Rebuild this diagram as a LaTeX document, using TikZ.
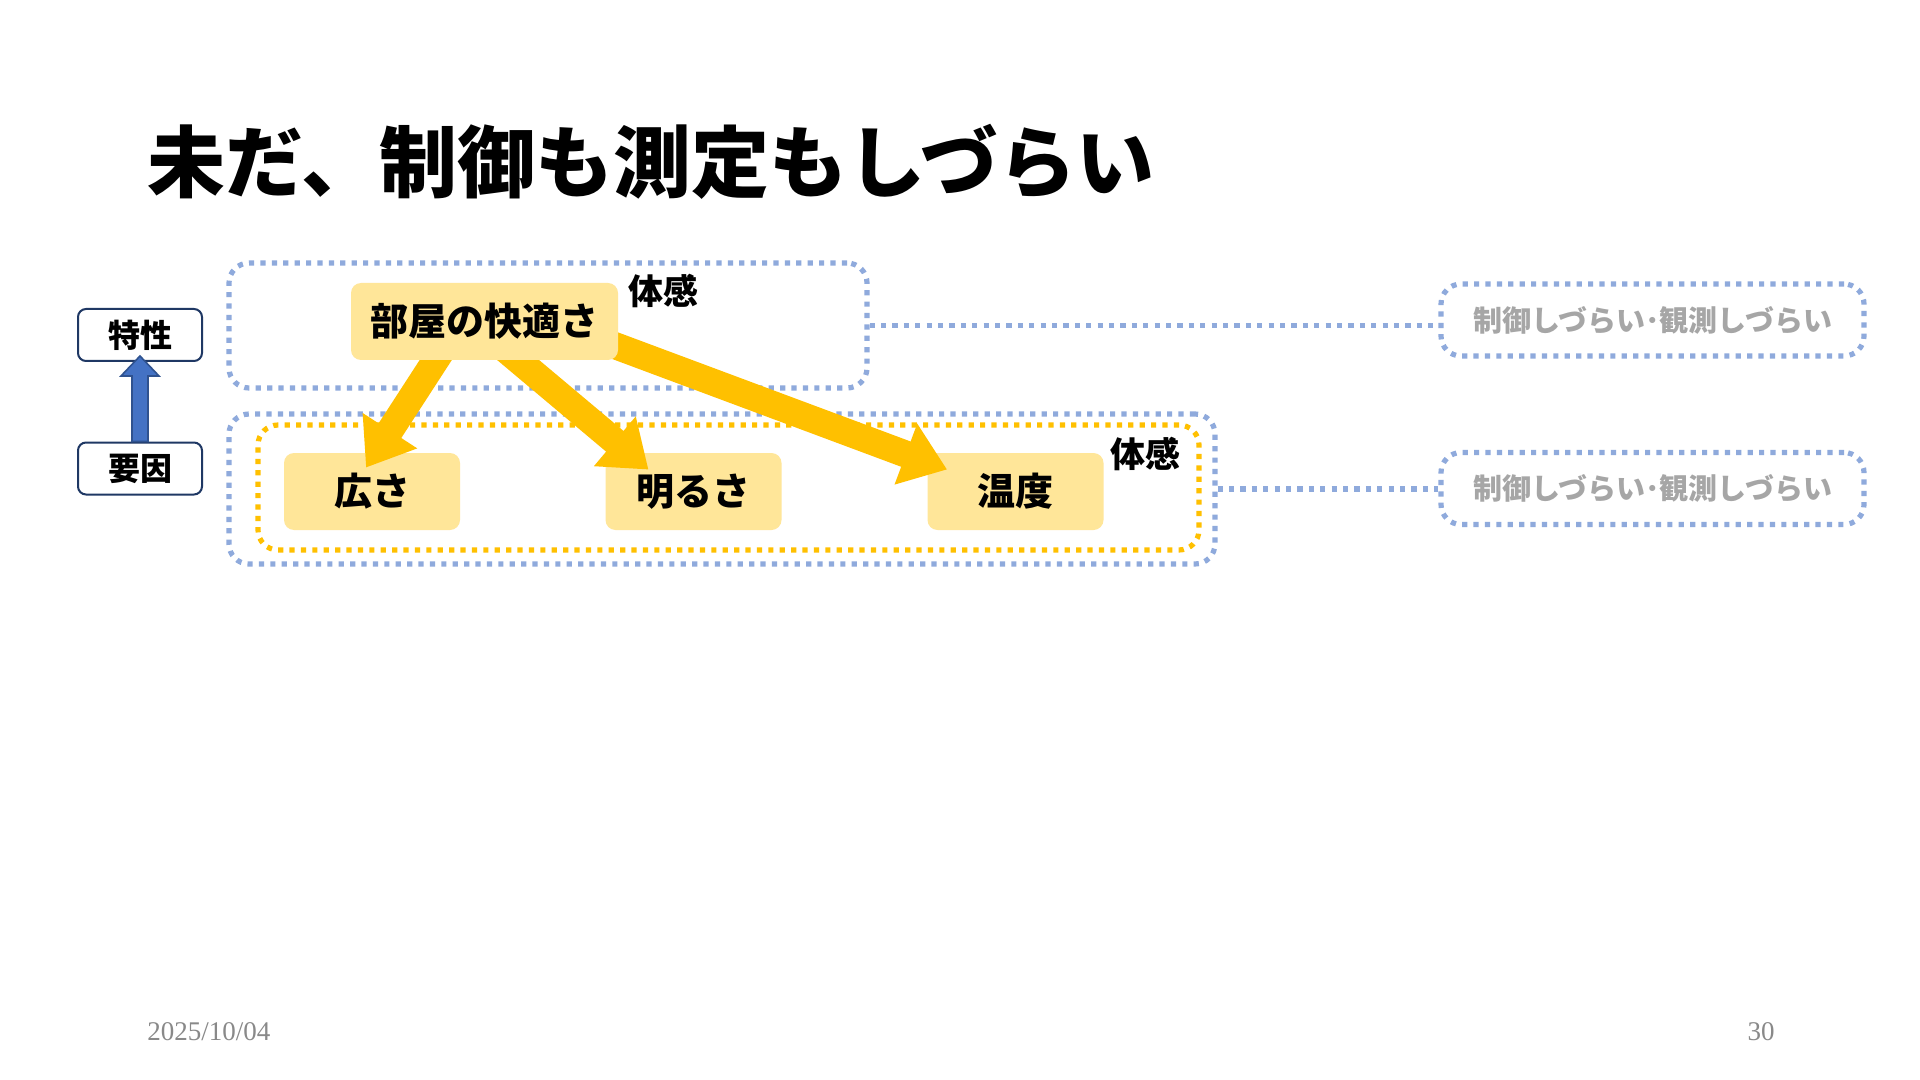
\documentclass[tikz,border=0pt]{standalone}
\usepackage{fontspec}
\setmainfont{Noto Sans CJK JP}
\newfontfamily\footfont{Liberation Serif}
\usetikzlibrary{arrows.meta,calc}
\definecolor{dotblue}{HTML}{8FAADC}
\definecolor{doty}{HTML}{FFC000}
\definecolor{fillY}{HTML}{FFE699}
\definecolor{navy}{HTML}{1F3864}
\definecolor{grayT}{HTML}{A6A6A6}
\definecolor{footgray}{HTML}{898989}
\definecolor{arrblue}{HTML}{4472C4}
\definecolor{arrblueB}{HTML}{2F528F}
\tikzset{
  bluedot/.style={draw=dotblue, line width=2.6pt, dash pattern=on 2.6pt off 3.1pt, rounded corners=10pt},
  ydot/.style={draw=doty, line width=2.6pt, dash pattern=on 2.6pt off 3.1pt, rounded corners=10pt},
  grpbox/.style={bluedot, inner sep=0pt},
  ybox/.style={fill=fillY, rounded corners=5pt, inner sep=0pt, minimum height=38.5pt,
    font=\bfseries\fontsize{19pt}{22pt}\selectfont},
  sidebox/.style={draw=navy, line width=1pt, fill=white, rounded corners=4pt, inner sep=0pt,
    minimum width=62pt, minimum height=26pt, font=\bfseries\fontsize{16pt}{19pt}\selectfont},
  graybox/.style={bluedot, inner sep=0pt, minimum width=211.5pt, minimum height=36pt,
    text=grayT, font=\bfseries\fontsize{14.5pt}{17pt}\selectfont},
  feel/.style={font=\bfseries\fontsize{17.5pt}{20pt}\selectfont, inner sep=0pt},
  bigarrow/.style={draw=doty, line width=13.5pt, -{Triangle[length=22pt,width=31pt]}},
  blueup/.style={fill=arrblue, draw=arrblueB, line width=0.8pt},
  dotline/.style={draw=dotblue, line width=2.6pt, dash pattern=on 2.6pt off 3.1pt}
}
\begin{document}
\begin{tikzpicture}[x=0.5pt,y=-0.5pt]
\useasboundingbox[fill=white] (0,0) rectangle (1920,1080);

% title
\node[anchor=west, inner sep=0pt, font=\bfseries\fontsize{39pt}{46pt}\selectfont] (title) at (147,162) {未だ、制御も測定もしづらい};

% group boxes
\node[grpbox, minimum width=319pt, minimum height=62.5pt] (topgrp) at (548,325.5) {};
\node[grpbox, minimum width=493pt, minimum height=75pt] (botgrp) at (722,489) {};
\node[ydot, inner sep=0pt, minimum width=470.5pt, minimum height=62.5pt] (ygrp) at (728.5,487.5) {};

% target nodes
\node[ybox, minimum width=88pt] (hiro) at (372,491.5) {広さ};
\node[ybox, minimum width=88pt] (akaru) at (693.5,491.5) {明るさ};
\node[ybox, minimum width=88pt] (ondo) at (1015.5,491.5) {温度};

% source node position
\coordinate (roomc) at (484.5,321.5);
\coordinate (a1s) at ($(roomc)+(-40,25)$);
\coordinate (a1e) at ($(hiro.north)+(-6,15)$);
\coordinate (a2s) at ($(roomc)+(17.5,25)$);
\coordinate (a2e) at ($(akaru.north)+(-45,17)$);
\coordinate (a3s) at ($(roomc)+(110,16.5)$);
\coordinate (a3e) at ($(ondo.west)+(20,-22)$);
\draw[bigarrow] (a1s) -- (a1e);
\draw[bigarrow] (a2s) -- (a2e);
\draw[bigarrow] (a3s) -- (a3e);

\node[ybox, minimum width=133.5pt] (room) at (roomc) {部屋の快適さ};

\node[feel] (feel1) at (663,291) {体感};
\node[feel] (feel2) at (1145,454) {体感};

% side boxes
\node[sidebox] (tok) at (140,335) {特性};
\node[sidebox] (yoin) at (140,468.5) {要因};

% right gray boxes
\node[graybox] (r1) at (1652.5,320) {制御しづらい･観測しづらい};
\node[graybox] (r2) at (1652.5,488.5) {制御しづらい･観測しづらい};

% dotted connectors
\draw[dotline] (topgrp.east) -- (topgrp.east -| r1.west);
\draw[dotline] (botgrp.east) -- (botgrp.east -| r2.west);

% blue up arrow
\draw[blueup] ($(yoin.north)+(-8,0)$) -- ($(tok.south)+(-8,14)$) -- ++(-11,0)
  -- ($(tok.south)+(0,-6)$) -- ($(tok.south)+(19,14)$) -- ++(-11,0)
  -- ($(yoin.north)+(8,0)$) -- cycle;

% footer
\node[anchor=west, inner sep=0pt, text=footgray, font=\footfont\fontsize{13.5pt}{16pt}\selectfont] (date) at (147,1032) {2025/10/04};
\node[inner sep=0pt, text=footgray, font=\footfont\fontsize{13.5pt}{16pt}\selectfont] (page) at (1761,1032) {30};
\end{tikzpicture}
\end{document}
